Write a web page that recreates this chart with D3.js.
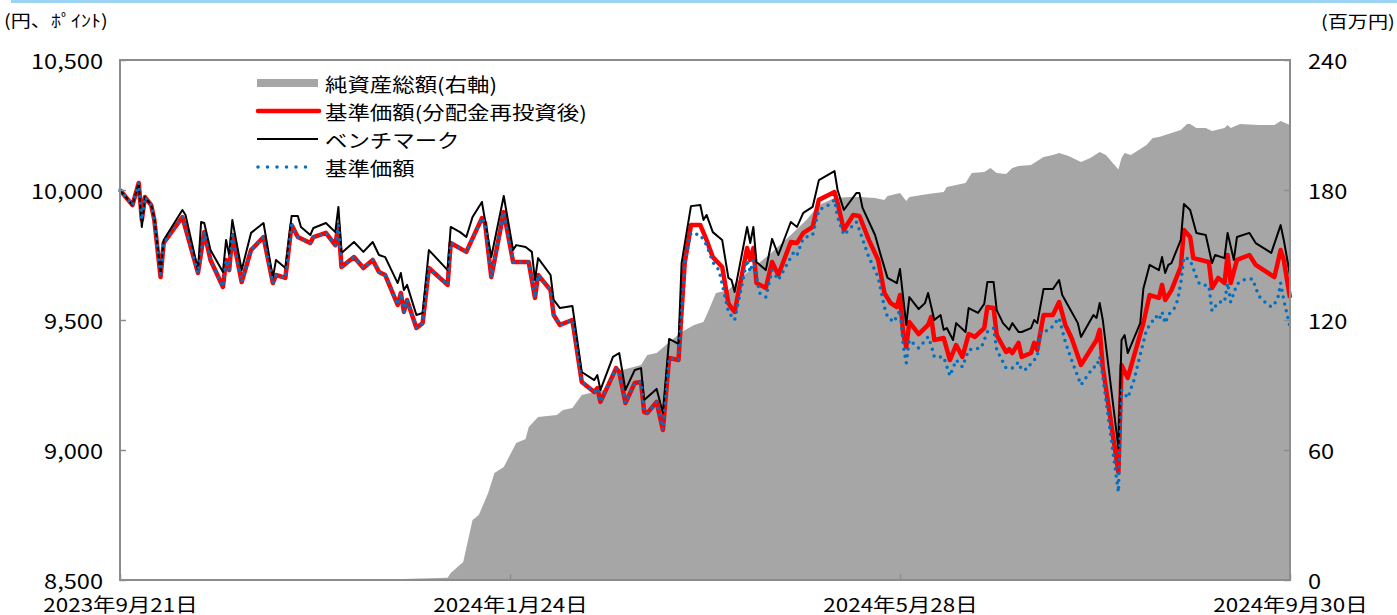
<!DOCTYPE html>
<html>
<head>
<meta charset="utf-8">
<script src="https://cdn.jsdelivr.net/npm/d3@7"></script>
<style>
  body { margin: 0; background: #fff; }
  svg { display: block; font-family: "Noto Sans CJK JP", "Noto Sans", sans-serif; }
</style>
</head>
<body>
<div id="chart"></div>
<script>
// 基準価額（分配金再投資後）
const navPoints = [
  ["2023-09-21", 10000], ["2023-09-25", 9942], ["2023-09-27", 10027], ["2023-09-28", 9885],
  ["2023-09-29", 9973], ["2023-10-01", 9942], ["2023-10-02", 9885], ["2023-10-04", 9665],
  ["2023-10-05", 9796], ["2023-10-11", 9896], ["2023-10-16", 9681], ["2023-10-18", 9838],
  ["2023-10-20", 9731], ["2023-10-24", 9627], ["2023-10-25", 9731], ["2023-10-26", 9692],
  ["2023-10-27", 9827], ["2023-10-30", 9646], ["2023-11-02", 9769], ["2023-11-06", 9819],
  ["2023-11-09", 9642], ["2023-11-10", 9673], ["2023-11-13", 9662], ["2023-11-15", 9865],
  ["2023-11-17", 9819], ["2023-11-21", 9796], ["2023-11-22", 9819], ["2023-11-26", 9835],
  ["2023-11-29", 9788], ["2023-11-30", 9865], ["2023-12-01", 9704], ["2023-12-05", 9742],
  ["2023-12-08", 9700], ["2023-12-11", 9731], ["2023-12-13", 9685], ["2023-12-15", 9673],
  ["2023-12-19", 9558], ["2023-12-20", 9604], ["2023-12-21", 9531], ["2023-12-22", 9577],
  ["2023-12-25", 9469], ["2023-12-27", 9488], ["2023-12-29", 9700], ["2024-01-04", 9635],
  ["2024-01-05", 9796], ["2024-01-10", 9762], ["2024-01-15", 9892], ["2024-01-16", 9873],
  ["2024-01-18", 9665], ["2024-01-22", 9915], ["2024-01-25", 9723], ["2024-01-30", 9723],
  ["2024-02-01", 9585], ["2024-02-02", 9673], ["2024-02-06", 9615], ["2024-02-07", 9519],
  ["2024-02-09", 9481], ["2024-02-13", 9500], ["2024-02-16", 9262], ["2024-02-20", 9223],
  ["2024-02-21", 9238], ["2024-02-22", 9185], ["2024-02-27", 9315], ["2024-02-28", 9300],
  ["2024-03-01", 9181], ["2024-03-04", 9258], ["2024-03-06", 9262], ["2024-03-07", 9146],
  ["2024-03-08", 9142], ["2024-03-11", 9185], ["2024-03-13", 9077], ["2024-03-15", 9354],
  ["2024-03-18", 9346], ["2024-03-20", 9719], ["2024-03-22", 9865], ["2024-03-25", 9865],
  ["2024-03-27", 9808], ["2024-03-29", 9742], ["2024-04-01", 9704], ["2024-04-03", 9565],
  ["2024-04-04", 9546], ["2024-04-05", 9531], ["2024-04-09", 9777], ["2024-04-10", 9731],
  ["2024-04-11", 9777], ["2024-04-12", 9642], ["2024-04-15", 9623], ["2024-04-17", 9723],
  ["2024-04-19", 9673], ["2024-04-23", 9800], ["2024-04-25", 9796], ["2024-04-27", 9835],
  ["2024-04-30", 9858], ["2024-05-02", 9962], ["2024-05-07", 9992], ["2024-05-08", 9950],
  ["2024-05-10", 9846], ["2024-05-13", 9904], ["2024-05-15", 9900], ["2024-05-18", 9808],
  ["2024-05-21", 9731], ["2024-05-23", 9604], ["2024-05-25", 9565], ["2024-05-27", 9550],
  ["2024-05-28", 9596], ["2024-05-29", 9450], ["2024-05-30", 9396], ["2024-05-31", 9492],
  ["2024-06-03", 9446], ["2024-06-06", 9481], ["2024-06-07", 9512], ["2024-06-08", 9423],
  ["2024-06-11", 9431], ["2024-06-13", 9346], ["2024-06-15", 9404], ["2024-06-17", 9358],
  ["2024-06-19", 9446], ["2024-06-21", 9435], ["2024-06-24", 9469], ["2024-06-25", 9550],
  ["2024-06-27", 9546], ["2024-06-28", 9442], ["2024-07-01", 9377], ["2024-07-02", 9388],
  ["2024-07-03", 9373], ["2024-07-05", 9412], ["2024-07-06", 9358], ["2024-07-09", 9373],
  ["2024-07-10", 9412], ["2024-07-11", 9385], ["2024-07-13", 9519], ["2024-07-16", 9519],
  ["2024-07-18", 9569], ["2024-07-20", 9481], ["2024-07-22", 9431], ["2024-07-25", 9327],
  ["2024-07-30", 9423], ["2024-07-31", 9462], ["2024-08-01", 9319], ["2024-08-06", 8915],
  ["2024-08-07", 9327], ["2024-08-09", 9277], ["2024-08-14", 9488], ["2024-08-16", 9596],
  ["2024-08-19", 9585], ["2024-08-20", 9635], ["2024-08-21", 9577], ["2024-08-23", 9615],
  ["2024-08-26", 9704], ["2024-08-27", 9846], ["2024-08-29", 9819], ["2024-08-30", 9738],
  ["2024-09-04", 9723], ["2024-09-05", 9623], ["2024-09-07", 9662], ["2024-09-09", 9642],
  ["2024-09-10", 9750], ["2024-09-11", 9642], ["2024-09-13", 9731], ["2024-09-17", 9750],
  ["2024-09-19", 9712], ["2024-09-25", 9665], ["2024-09-27", 9769], ["2024-09-28", 9731],
  ["2024-09-30", 9585]
];

// ベンチマーク
const benchPoints = [
  ["2023-09-21", 10000], ["2023-09-25", 9942], ["2023-09-27", 10027], ["2023-09-28", 9858],
  ["2023-09-29", 9973], ["2023-10-01", 9942], ["2023-10-02", 9892], ["2023-10-04", 9681],
  ["2023-10-05", 9808], ["2023-10-11", 9923], ["2023-10-12", 9904], ["2023-10-16", 9692],
  ["2023-10-17", 9877], ["2023-10-18", 9873], ["2023-10-20", 9769], ["2023-10-24", 9685],
  ["2023-10-25", 9808], ["2023-10-26", 9750], ["2023-10-27", 9885], ["2023-10-30", 9692],
  ["2023-11-02", 9835], ["2023-11-06", 9873], ["2023-11-09", 9662], ["2023-11-10", 9731],
  ["2023-11-13", 9700], ["2023-11-15", 9900], ["2023-11-17", 9900], ["2023-11-18", 9858],
  ["2023-11-21", 9827], ["2023-11-22", 9854], ["2023-11-26", 9873], ["2023-11-29", 9838],
  ["2023-11-30", 9935], ["2023-12-01", 9758], ["2023-12-05", 9800], ["2023-12-08", 9762],
  ["2023-12-11", 9800], ["2023-12-13", 9750], ["2023-12-15", 9742], ["2023-12-19", 9642],
  ["2023-12-20", 9681], ["2023-12-21", 9615], ["2023-12-22", 9635], ["2023-12-25", 9519],
  ["2023-12-27", 9527], ["2023-12-29", 9769], ["2024-01-04", 9692], ["2024-01-05", 9858],
  ["2024-01-08", 9838], ["2024-01-10", 9819], ["2024-01-12", 9896], ["2024-01-15", 9954],
  ["2024-01-18", 9742], ["2024-01-22", 9977], ["2024-01-25", 9769], ["2024-01-26", 9788],
  ["2024-01-29", 9781], ["2024-01-31", 9762], ["2024-02-01", 9654], ["2024-02-02", 9738],
  ["2024-02-06", 9673], ["2024-02-07", 9577], ["2024-02-09", 9546], ["2024-02-13", 9554],
  ["2024-02-16", 9300], ["2024-02-20", 9269], ["2024-02-21", 9288], ["2024-02-22", 9231],
  ["2024-02-26", 9358], ["2024-02-28", 9373], ["2024-03-01", 9231], ["2024-03-04", 9308],
  ["2024-03-06", 9315], ["2024-03-07", 9192], ["2024-03-11", 9235], ["2024-03-13", 9142],
  ["2024-03-15", 9427], ["2024-03-18", 9408], ["2024-03-19", 9719], ["2024-03-22", 9938],
  ["2024-03-25", 9942], ["2024-03-26", 9885], ["2024-03-27", 9904], ["2024-03-29", 9838],
  ["2024-04-01", 9808], ["2024-04-03", 9662], ["2024-04-04", 9654], ["2024-04-05", 9608],
  ["2024-04-09", 9858], ["2024-04-10", 9796], ["2024-04-11", 9858], ["2024-04-12", 9723],
  ["2024-04-15", 9692], ["2024-04-17", 9812], ["2024-04-19", 9750], ["2024-04-23", 9877],
  ["2024-04-25", 9858], ["2024-04-27", 9912], ["2024-04-30", 9935], ["2024-05-02", 10038],
  ["2024-05-07", 10073], ["2024-05-08", 10000], ["2024-05-10", 9923], ["2024-05-14", 9988],
  ["2024-05-15", 9988], ["2024-05-16", 9931], ["2024-05-20", 9827], ["2024-05-22", 9742],
  ["2024-05-24", 9662], ["2024-05-27", 9642], ["2024-05-28", 9696], ["2024-05-30", 9481],
  ["2024-05-31", 9588], ["2024-06-03", 9542], ["2024-06-05", 9565], ["2024-06-06", 9604],
  ["2024-06-08", 9500], ["2024-06-10", 9519], ["2024-06-11", 9462], ["2024-06-12", 9469],
  ["2024-06-14", 9423], ["2024-06-15", 9488], ["2024-06-18", 9454], ["2024-06-19", 9546],
  ["2024-06-22", 9527], ["2024-06-24", 9562], ["2024-06-25", 9646], ["2024-06-27", 9646],
  ["2024-06-28", 9538], ["2024-06-30", 9488], ["2024-07-02", 9462], ["2024-07-03", 9488],
  ["2024-07-05", 9454], ["2024-07-06", 9454], ["2024-07-09", 9469], ["2024-07-10", 9500],
  ["2024-07-11", 9488], ["2024-07-13", 9619], ["2024-07-16", 9619], ["2024-07-18", 9654],
  ["2024-07-19", 9596], ["2024-07-24", 9488], ["2024-07-25", 9435], ["2024-07-29", 9519],
  ["2024-07-30", 9508], ["2024-07-31", 9565], ["2024-08-01", 9500], ["2024-08-06", 9008],
  ["2024-08-07", 9423], ["2024-08-08", 9442], ["2024-08-09", 9373], ["2024-08-13", 9488],
  ["2024-08-14", 9620], ["2024-08-16", 9712], ["2024-08-19", 9692], ["2024-08-20", 9742],
  ["2024-08-21", 9681], ["2024-08-22", 9712], ["2024-08-23", 9719], ["2024-08-26", 9808],
  ["2024-08-27", 9946], ["2024-08-29", 9923], ["2024-08-31", 9835], ["2024-09-03", 9827],
  ["2024-09-05", 9719], ["2024-09-06", 9750], ["2024-09-09", 9738], ["2024-09-10", 9835],
  ["2024-09-12", 9731], ["2024-09-13", 9819], ["2024-09-17", 9835], ["2024-09-19", 9796],
  ["2024-09-24", 9758], ["2024-09-27", 9865], ["2024-09-28", 9808], ["2024-09-30", 9673]
];

// 基準価額: same as the reinvested series until 2024-03-20, then these readings
const rawSplit = "2024-03-20";
const rawTailPoints = [
  ["2024-03-20", 9719], ["2024-03-22", 9835], ["2024-03-25", 9827], ["2024-03-27", 9788],
  ["2024-03-29", 9723], ["2024-03-31", 9692], ["2024-04-03", 9531], ["2024-04-05", 9500],
  ["2024-04-09", 9731], ["2024-04-10", 9685], ["2024-04-11", 9731], ["2024-04-13", 9604],
  ["2024-04-15", 9588], ["2024-04-17", 9692], ["2024-04-19", 9654], ["2024-04-24", 9762],
  ["2024-04-25", 9750], ["2024-04-27", 9815], ["2024-04-30", 9827], ["2024-05-02", 9923],
  ["2024-05-05", 9942], ["2024-05-07", 9962], ["2024-05-08", 9896], ["2024-05-10", 9827],
  ["2024-05-14", 9877], ["2024-05-15", 9846], ["2024-05-18", 9742], ["2024-05-21", 9665],
  ["2024-05-23", 9550], ["2024-05-24", 9512], ["2024-05-26", 9492], ["2024-05-28", 9538],
  ["2024-05-29", 9404], ["2024-05-30", 9335], ["2024-05-31", 9423], ["2024-06-03", 9392],
  ["2024-06-06", 9435], ["2024-06-07", 9404], ["2024-06-08", 9358], ["2024-06-11", 9358],
  ["2024-06-13", 9285], ["2024-06-15", 9346], ["2024-06-17", 9319], ["2024-06-19", 9385],
  ["2024-06-23", 9392], ["2024-06-25", 9454], ["2024-06-27", 9469], ["2024-06-28", 9385],
  ["2024-07-01", 9315], ["2024-07-03", 9315], ["2024-07-05", 9338], ["2024-07-06", 9308],
  ["2024-07-08", 9312], ["2024-07-09", 9335], ["2024-07-11", 9358], ["2024-07-12", 9454],
  ["2024-07-15", 9462], ["2024-07-18", 9508], ["2024-07-20", 9415], ["2024-07-22", 9346],
  ["2024-07-25", 9250], ["2024-07-29", 9319], ["2024-07-30", 9319], ["2024-07-31", 9358],
  ["2024-08-01", 9281], ["2024-08-06", 8838], ["2024-08-07", 9231], ["2024-08-09", 9200],
  ["2024-08-11", 9269], ["2024-08-15", 9462], ["2024-08-18", 9515], ["2024-08-19", 9500],
  ["2024-08-20", 9531], ["2024-08-21", 9488], ["2024-08-22", 9519], ["2024-08-24", 9546],
  ["2024-08-25", 9577], ["2024-08-26", 9642], ["2024-08-27", 9742], ["2024-08-29", 9731],
  ["2024-08-31", 9665], ["2024-09-01", 9638], ["2024-09-04", 9631], ["2024-09-05", 9535],
  ["2024-09-07", 9569], ["2024-09-09", 9569], ["2024-09-10", 9642], ["2024-09-11", 9569],
  ["2024-09-13", 9638], ["2024-09-15", 9654], ["2024-09-18", 9658], ["2024-09-20", 9592],
  ["2024-09-22", 9569], ["2024-09-24", 9550], ["2024-09-26", 9577], ["2024-09-27", 9642],
  ["2024-09-28", 9577], ["2024-09-30", 9473]
];

// 純資産総額（百万円, 右軸）
const aumPoints = [
  ["2023-12-21", 0.5], ["2024-01-04", 1.0], ["2024-01-05", 3.2], ["2024-01-09", 8.3],
  ["2024-01-12", 27.7], ["2024-01-14", 30.0], ["2024-01-17", 40.2], ["2024-01-19", 49.4],
  ["2024-01-22", 52.2], ["2024-01-26", 63.2], ["2024-01-29", 65.1], ["2024-01-30", 70.6],
  ["2024-02-02", 75.2], ["2024-02-08", 76.2], ["2024-02-10", 78.5], ["2024-02-13", 79.4],
  ["2024-02-16", 85.4], ["2024-02-23", 87.7], ["2024-02-27", 95.5], ["2024-02-29", 96.9],
  ["2024-03-06", 99.2], ["2024-03-08", 103.8], ["2024-03-11", 104.8], ["2024-03-14", 108.5],
  ["2024-03-19", 114.5], ["2024-03-23", 117.7], ["2024-03-26", 119.1], ["2024-03-28", 125.5],
  ["2024-03-30", 132.5], ["2024-04-03", 133.8], ["2024-04-08", 140.8], ["2024-04-16", 150.0],
  ["2024-04-23", 159.2], ["2024-04-28", 166.2], ["2024-05-02", 173.1], ["2024-05-07", 176.3],
  ["2024-05-12", 176.8], ["2024-05-15", 176.8], ["2024-05-20", 176.3], ["2024-05-23", 175.4],
  ["2024-05-24", 177.2], ["2024-05-28", 178.6], ["2024-05-30", 174.9], ["2024-05-31", 176.8],
  ["2024-06-06", 178.2], ["2024-06-11", 179.1], ["2024-06-12", 181.4], ["2024-06-18", 183.2],
  ["2024-06-20", 187.8], ["2024-06-24", 188.3], ["2024-06-26", 190.2], ["2024-06-28", 187.8],
  ["2024-07-01", 187.4], ["2024-07-03", 190.2], ["2024-07-05", 191.1], ["2024-07-09", 191.5],
  ["2024-07-13", 195.2], ["2024-07-16", 196.2], ["2024-07-18", 197.1], ["2024-07-21", 195.7],
  ["2024-07-25", 192.9], ["2024-07-28", 194.8], ["2024-07-31", 197.5], ["2024-08-02", 196.2],
  ["2024-08-06", 189.5], ["2024-08-07", 194.8], ["2024-08-08", 197.1], ["2024-08-10", 196.2],
  ["2024-08-15", 200.8], ["2024-08-17", 204.0], ["2024-08-19", 204.5], ["2024-08-26", 207.7],
  ["2024-08-28", 210.5], ["2024-08-29", 210.5], ["2024-08-31", 208.6], ["2024-09-03", 208.6],
  ["2024-09-05", 207.2], ["2024-09-09", 208.6], ["2024-09-10", 210.0], ["2024-09-11", 208.6],
  ["2024-09-14", 210.5], ["2024-09-20", 210.0], ["2024-09-25", 210.0], ["2024-09-27", 211.8],
  ["2024-09-30", 210.0]
];

const leftTicks = [8500, 9000, 9500, 10000, 10500];
const rightTicks = [0, 60, 120, 180, 240];
const xTicks = ["2023-09-21", "2024-01-24", "2024-05-28", "2024-09-30"];
const legendLabels = ["純資産総額(右軸)", "基準価額(分配金再投資後)", "ベンチマーク", "基準価額"];
const leftUnit = "(円、ﾎﾟｲﾝﾄ)";
const rightUnit = "(百万円)";

const width = 1397;
const height = 615;
const margin = { top: 60, right: 107, bottom: 35, left: 120 };
const stretch = 1.18; // the reference text is drawn a little wide

const parse = d3.timeParse("%Y-%m-%d");
const toRows = pts => pts.map(p => ({ date: parse(p[0]), value: p[1] }));

const nav = toRows(navPoints);
const bench = toRows(benchPoints);
const raw = toRows(navPoints.filter(p => p[0] < rawSplit).concat(rawTailPoints));
const aum = toRows(aumPoints);

const svg = d3.select("#chart")
  .append("svg")
  .attr("width", width)
  .attr("height", height);

const x = d3.scaleTime()
  .domain([parse(xTicks[0]), parse(xTicks[xTicks.length - 1])])
  .range([margin.left, width - margin.right]);

const yLeft = d3.scaleLinear()
  .domain([leftTicks[0], leftTicks[leftTicks.length - 1]])
  .range([height - margin.bottom, margin.top]);

const yRight = d3.scaleLinear()
  .domain([rightTicks[0], rightTicks[rightTicks.length - 1]])
  .range([height - margin.bottom, margin.top]);

// light blue strip across the top
svg.append("rect")
  .attr("x", 11).attr("y", 0)
  .attr("width", width - 11).attr("height", 3)
  .attr("fill", "#9dd4f4");

// net assets area
const area = d3.area()
  .x(d => x(d.date))
  .y0(yRight(0))
  .y1(d => yRight(d.value));

svg.append("path")
  .datum(aum)
  .attr("d", area)
  .attr("fill", "#a6a6a6");

const line = d3.line()
  .x(d => x(d.date))
  .y(d => yLeft(d.value));

svg.append("path")
  .datum(nav)
  .attr("d", line)
  .attr("fill", "none")
  .attr("stroke", "#ff0000")
  .attr("stroke-width", 4.5)
  .attr("stroke-linejoin", "round");

svg.append("path")
  .datum(bench)
  .attr("d", line)
  .attr("fill", "none")
  .attr("stroke", "#000")
  .attr("stroke-width", 2)
  .attr("stroke-linejoin", "round");

svg.append("path")
  .datum(raw)
  .attr("d", line)
  .attr("fill", "none")
  .attr("stroke", "#0070c0")
  .attr("stroke-width", 3.5)
  .attr("stroke-linecap", "round")
  .attr("stroke-dasharray", "0 7");

// frame
svg.append("rect")
  .attr("x", margin.left).attr("y", margin.top)
  .attr("width", width - margin.left - margin.right)
  .attr("height", height - margin.top - margin.bottom)
  .attr("fill", "none")
  .attr("stroke", "#8c8c8c")
  .attr("stroke-width", 2);

function styleAxis(g) {
  g.attr("font-family", null).attr("font-size", null);
  g.select(".domain").remove();
  g.selectAll(".tick line").attr("stroke", "#8c8c8c").attr("stroke-width", 1.5);
  g.selectAll("text").attr("fill", "#000").style("font-size", "20px");
}

svg.append("g")
  .attr("transform", `translate(${margin.left},0)`)
  .call(d3.axisLeft(yLeft).tickValues(leftTicks).tickSize(-6).tickPadding(17).tickFormat(d3.format(",")))
  .call(styleAxis)
  .call(g => g.selectAll("text").attr("dy", null).attr("dominant-baseline", "central"));

svg.append("g")
  .attr("transform", `translate(${width - margin.right},0)`)
  .call(d3.axisRight(yRight).tickValues(rightTicks).tickSize(-6).tickPadding(18))
  .call(styleAxis)
  .call(g => g.selectAll("text").attr("dy", null).attr("dominant-baseline", "central"));

svg.append("g")
  .attr("transform", `translate(0,${height - margin.bottom})`)
  .call(d3.axisBottom(x).tickValues(xTicks.map(parse)).tickSize(-6)
    .tickFormat(d3.timeFormat("%Y年%-m月%-d日")))
  .call(styleAxis)
  .call(g => g.selectAll("text").attr("y", 23).attr("dy", null)
    .attr("dominant-baseline", "central").style("font-size", "19px"));

// unit labels
svg.append("text")
  .attr("x", 4).attr("y", 19)
  .attr("dominant-baseline", "central")
  .style("font-size", "17px")
  .text(leftUnit);

svg.append("text")
  .attr("x", 1321).attr("y", 20)
  .attr("dominant-baseline", "central")
  .style("font-size", "17px")
  .text(rightUnit);

// legend
const legend = svg.append("g").attr("transform", "translate(257,83)");
const rowGap = 28;

legend.append("rect")
  .attr("x", 0).attr("y", -4)
  .attr("width", 61).attr("height", 8)
  .attr("fill", "#a6a6a6");

legend.append("line")
  .attr("x1", 1).attr("x2", 62)
  .attr("y1", rowGap).attr("y2", rowGap)
  .attr("stroke", "#ff0000").attr("stroke-width", 4.5).attr("stroke-linecap", "round");

legend.append("line")
  .attr("x1", 0).attr("x2", 61)
  .attr("y1", rowGap * 2).attr("y2", rowGap * 2)
  .attr("stroke", "#000").attr("stroke-width", 2);

legend.append("line")
  .attr("x1", 1).attr("x2", 58)
  .attr("y1", rowGap * 3).attr("y2", rowGap * 3)
  .attr("stroke", "#0070c0").attr("stroke-width", 3.5)
  .attr("stroke-linecap", "round").attr("stroke-dasharray", "0 9.5");

legend.selectAll("text.lab")
  .data(legendLabels)
  .enter()
  .append("text")
  .attr("class", "lab")
  .attr("x", 68)
  .attr("y", (d, i) => i * rowGap)
  .attr("dominant-baseline", "central")
  .style("font-size", "19px")
  .text(d => d);

// widen all text to match the reference
svg.selectAll("text").each(function () {
  const w = this.getComputedTextLength();
  this.setAttribute("textLength", w * stretch);
  this.setAttribute("lengthAdjust", "spacingAndGlyphs");
});
</script>
</body>
</html>
